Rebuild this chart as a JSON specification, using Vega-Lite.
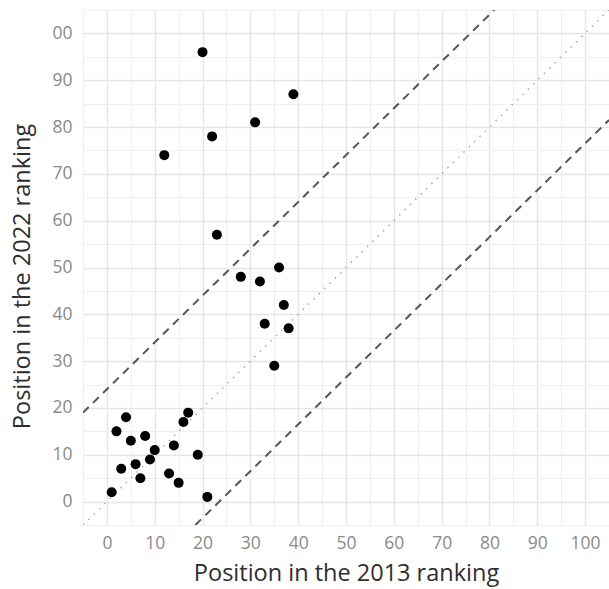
{
  "$schema": "https://vega.github.io/schema/vega-lite/v6.json",
  "width": 526,
  "height": 515,
  "autosize": "none",
  "padding": {"left": 83, "top": 10, "right": 0, "bottom": 64},
  "background": "white",
  "config": {
    "view": {"stroke": null},
    "font": "Open Sans",
    "axis": {
      "domain": false,
      "ticks": false,
      "labelColor": "#8a8a8a",
      "labelFontSize": 17.5,
      "titleColor": "#2e2e2e",
      "titleFontSize": 23.5,
      "titleFontWeight": "normal"
    }
  },
  "resolve": {"axis": {"x": "independent", "y": "independent"}},
  "datasets": {
    "pts": [
      {"r2013": 1, "r2022": 2}, {"r2013": 2, "r2022": 15}, {"r2013": 3, "r2022": 7},
      {"r2013": 4, "r2022": 18}, {"r2013": 5, "r2022": 13}, {"r2013": 6, "r2022": 8},
      {"r2013": 7, "r2022": 5}, {"r2013": 8, "r2022": 14}, {"r2013": 9, "r2022": 9},
      {"r2013": 10, "r2022": 11}, {"r2013": 13, "r2022": 6}, {"r2013": 14, "r2022": 12},
      {"r2013": 15, "r2022": 4}, {"r2013": 16, "r2022": 17}, {"r2013": 17, "r2022": 19},
      {"r2013": 19, "r2022": 10}, {"r2013": 21, "r2022": 1}, {"r2013": 33, "r2022": 38},
      {"r2013": 37, "r2022": 42}, {"r2013": 38, "r2022": 37}, {"r2013": 35, "r2022": 29},
      {"r2013": 20, "r2022": 96}, {"r2013": 39, "r2022": 87}, {"r2013": 31, "r2022": 81},
      {"r2013": 22, "r2022": 78}, {"r2013": 12, "r2022": 74}, {"r2013": 23, "r2022": 57},
      {"r2013": 28, "r2022": 48}, {"r2013": 32, "r2022": 47}, {"r2013": 36, "r2022": 50}
    ],
    "dashed": [
      {"line": "upper", "r2013": -5, "r2022": 19},
      {"line": "upper", "r2013": 81, "r2022": 105},
      {"line": "lower", "r2013": 18.5, "r2022": -5},
      {"line": "lower", "r2013": 105, "r2022": 81.5}
    ],
    "dotted": [
      {"r2013": -5, "r2022": -5},
      {"r2013": 105, "r2022": 105}
    ]
  },
  "layer": [
    {
      "data": {"name": "dotted"},
      "mark": {"type": "line", "color": "#a8a8a8", "strokeWidth": 1.5, "strokeDash": [1.5, 6], "clip": true},
      "encoding": {
        "x": {
          "field": "r2013", "type": "quantitative",
          "scale": {"domain": [-5, 105], "nice": false, "zero": false},
          "axis": {
            "orient": "top", "title": null, "labels": false,
            "values": [-5, 5, 15, 25, 35, 45, 55, 65, 75, 85, 95, 105],
            "grid": true, "gridColor": "#efefef", "gridWidth": 1
          }
        },
        "y": {
          "field": "r2022", "type": "quantitative",
          "scale": {"domain": [-5, 105], "nice": false, "zero": false},
          "axis": {
            "orient": "right", "title": null, "labels": false,
            "values": [-5, 5, 15, 25, 35, 45, 55, 65, 75, 85, 95, 105],
            "grid": true, "gridColor": "#efefef", "gridWidth": 1
          }
        }
      }
    },
    {
      "data": {"name": "dashed"},
      "mark": {"type": "line", "color": "#555555", "strokeWidth": 2, "strokeDash": [8, 6], "clip": true},
      "encoding": {
        "x": {"field": "r2013", "type": "quantitative", "axis": null},
        "y": {"field": "r2022", "type": "quantitative", "axis": null},
        "detail": {"field": "line"}
      }
    },
    {
      "data": {"name": "pts"},
      "mark": {"type": "circle", "color": "black", "opacity": 1, "size": 100},
      "encoding": {
        "x": {
          "field": "r2013", "type": "quantitative",
          "axis": {
            "orient": "bottom",
            "title": "Position in the 2013 ranking",
            "values": [0, 10, 20, 30, 40, 50, 60, 70, 80, 90, 100],
            "grid": true, "gridColor": "#e6e6e6", "gridWidth": 1.5,
            "labelPadding": 9,
            "titlePadding": 10
          }
        },
        "y": {
          "field": "r2022", "type": "quantitative",
          "axis": {
            "orient": "left",
            "title": "Position in the 2022 ranking",
            "values": [0, 10, 20, 30, 40, 50, 60, 70, 80, 90, 100],
            "labelExpr": "datum.value == 100 ? '00' : datum.label",
            "grid": true, "gridColor": "#e6e6e6", "gridWidth": 1.5,
            "labelPadding": 11,
            "titlePadding": 17,
            "titleY": 266
          }
        }
      }
    }
  ]
}
